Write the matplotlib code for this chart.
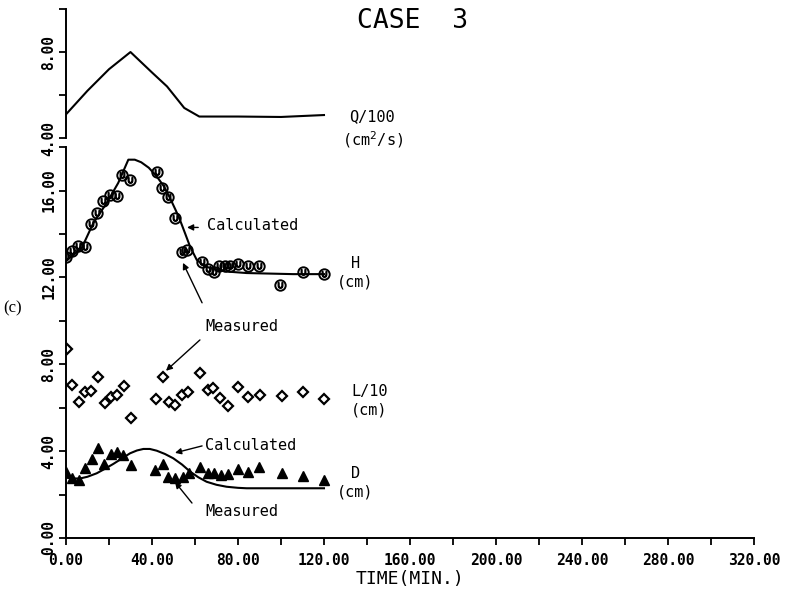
import matplotlib.pyplot as plt
from matplotlib.ticker import MultipleLocator, FixedLocator

# Q/100 (cm^2/s), upper panel
t_q = [0, 10, 20, 30, 40, 47, 55, 62, 80, 100, 120]
q = [5.1, 6.2, 7.2, 8.0, 7.05, 6.4, 5.4, 5.0, 5.0, 4.98, 5.07]

# H measured (cm)
t_h = [0, 2.6, 5.7, 8.8, 11.5, 14.6, 17.4, 20.5, 23.6, 25.9, 29.8, 42.2, 44.5, 47.6,
       50.7, 53.8, 56.1, 63.1, 65.9, 69, 71.3, 74, 76.3, 80.1, 84.8, 89.9, 99.5, 110.4, 120]
h = [12.94, 13.2, 13.46, 13.4, 14.47, 14.96, 15.5, 15.8, 15.73, 16.73, 16.5, 16.83, 16.12, 15.7,
     14.73, 13.19, 13.24, 12.73, 12.38, 12.27, 12.53, 12.53, 12.53, 12.63, 12.53, 12.53, 11.66, 12.24, 12.15]

# H calculated
t_hc = [0, 7.3, 12.7, 18.9, 24.3, 29, 32, 35, 38.5, 42.2, 45.5, 48.4, 51, 53, 55.5, 57.7,
        60.8, 64, 67, 74.7, 84, 105.6, 120]
h_c = [12.75, 13.35, 14.5, 15.42, 16.35, 17.42, 17.42, 17.3, 17.05, 16.65, 16.2, 15.65, 15.1, 14.65,
       14.0, 13.42, 12.81, 12.55, 12.43, 12.27, 12.2, 12.15, 12.15]

# L/10 measured (cm)
t_l = [0.3, 2.6, 6, 8.8, 11.5, 14.7, 18.1, 20.9, 23.9, 27, 30.2, 41.9, 45, 47.9, 50.7, 53.8,
       56.9, 62.3, 65.9, 68.5, 71.6, 75.2, 80.1, 84.8, 90.2, 100.3, 110.1, 120.1]
l = [8.7, 7.05, 6.28, 6.74, 6.79, 7.43, 6.21, 6.48, 6.59, 7.02, 5.52, 6.39, 7.43, 6.28, 6.13, 6.59,
     6.74, 7.62, 6.82, 6.9, 6.44, 6.08, 6.93, 6.51, 6.59, 6.54, 6.7, 6.39]

# D measured (cm)
t_d = [0, 2.6, 6, 8.8, 11.9, 14.7, 17.7, 20.9, 23.9, 26.7, 30.2, 41.4, 45, 47.6, 50.7, 54.3,
       57.3, 62.3, 65.9, 69, 72.1, 75.2, 79.9, 84.8, 89.9, 100.3, 110.1, 120.1]
d = [3.06, 2.78, 2.67, 3.21, 3.63, 4.13, 3.41, 3.87, 3.98, 3.82, 3.36, 3.13, 3.4, 2.83, 2.75, 2.83,
     3.01, 3.29, 2.98, 3.01, 2.9, 2.94, 3.17, 3.06, 3.29, 2.98, 2.86, 2.67]

# D calculated
t_dc = [0, 3, 6.5, 10, 14.3, 18, 22, 26, 29.8, 33, 36, 39, 42.2, 46, 49.9, 54, 57.7,
        61.5, 65.4, 70, 74.7, 80, 84, 120]
d_c = [2.78, 2.74, 2.74, 2.82, 2.98, 3.18, 3.41, 3.66, 3.9, 4.03, 4.1, 4.1, 4.02, 3.87, 3.67, 3.38, 3.06,
       2.8, 2.59, 2.45, 2.36, 2.31, 2.29, 2.29]

mono = 'DejaVu Sans Mono'

fig = plt.figure(figsize=(7.94, 5.95), dpi=100)
ax = fig.add_axes([0.0831, 0.0958, 0.8665, 0.657])
ax_q = fig.add_axes([0.0831, 0.768, 0.8665, 0.2168])

for a in (ax, ax_q):
    a.set_xlim(0, 320)
    a.spines['top'].set_visible(False)
    a.spines['right'].set_visible(False)
    a.spines['left'].set_linewidth(1.4)
    a.spines['bottom'].set_linewidth(1.4)

# lower panel
ax.set_ylim(0, 18)
ax.xaxis.set_major_locator(MultipleLocator(40))
ax.xaxis.set_minor_locator(MultipleLocator(20))
ax.yaxis.set_major_locator(MultipleLocator(4))
ax.yaxis.set_minor_locator(MultipleLocator(2))
ax.xaxis.set_major_formatter(lambda v, p: f'{v:.2f}')
ax.yaxis.set_major_formatter(lambda v, p: f'{v:.2f}')
ax.tick_params(axis='x', which='both', direction='out', length=5, width=1.3, pad=6)
ax.tick_params(axis='y', which='both', direction='out', length=5, width=1.3, pad=2)
ax.tick_params(axis='y', labelrotation=90)
for lab in ax.get_xticklabels():
    lab.set_fontfamily(mono)
    lab.set_fontsize(10.5)
    lab.set_fontweight('bold')
for lab in ax.get_yticklabels():
    lab.set_fontfamily(mono)
    lab.set_fontsize(10.5)
    lab.set_fontweight('bold')
    lab.set_va('center')
ax.set_xlabel('TIME(MIN.)', fontfamily=mono, fontsize=13, labelpad=1)

ax.plot(t_hc, h_c, color='black', lw=1.5)
ax.plot(t_h, h, ls='none', marker='o', ms=7.5, mfc='none', mec='black', mew=1.4)
ax.plot(t_h, h, ls='none', marker='$\\cup$', ms=4, color='black')
ax.plot(t_l, l, ls='none', marker='D', ms=5, mfc='white', mec='black', mew=1.6)
ax.plot(t_dc, d_c, color='black', lw=1.5)
ax.plot(t_d, d, ls='none', marker='^', ms=6.5, color='black')

# upper panel
ax_q.set_ylim(4, 10)
ax_q.spines['bottom'].set_visible(False)
ax_q.set_xticks([])
ax_q.yaxis.set_major_locator(FixedLocator([4, 8]))
ax_q.yaxis.set_minor_locator(MultipleLocator(2))
ax_q.yaxis.set_major_formatter(lambda v, p: f'{v:.2f}')
ax_q.tick_params(axis='y', which='both', direction='out', length=5, width=1.3, pad=2)
ax_q.tick_params(axis='y', labelrotation=90)
for lab in ax_q.get_yticklabels():
    lab.set_fontfamily(mono)
    lab.set_fontsize(10.5)
    lab.set_fontweight('bold')
    lab.set_va('center')
ax_q.plot(t_q, q, color='black', lw=1.5)
ax_q.patch.set_alpha(0)

ax_q.text(135.3, 9.45, 'CASE  3', fontfamily=mono, fontsize=19, va='center', ha='left')

# side labels
lbl = dict(fontfamily=mono, fontsize=11, ha='center', va='center', linespacing=1.3, clip_on=False)
ax.text(142.5, 18.8, 'Q/100\n(cm$^2$/s)', **lbl)
ax.text(134.5, 12.2, 'H\n(cm)', **lbl)
ax.text(141, 6.3, 'L/10\n(cm)', **lbl)
ax.text(134.5, 2.53, 'D\n(cm)', **lbl)

# annotations
ann = dict(fontfamily=mono, fontsize=11, ha='left', va='center')
arr = dict(arrowstyle='-|>', color='black', lw=1.0, mutation_scale=9, shrinkA=0, shrinkB=0)
ax.text(65.6, 14.38, 'Calculated', **ann)
ax.annotate('', xy=(56.3, 14.3), xytext=(61.5, 14.3), arrowprops=arr)
ax.text(64.7, 9.72, 'Measured', **ann)
ax.annotate('', xy=(54.4, 12.67), xytext=(63.3, 10.83), arrowprops=arr)
ax.annotate('', xy=(46.5, 7.7), xytext=(62.3, 9.12), arrowprops=arr)
ax.text(64.7, 4.24, 'Calculated', **ann)
ax.annotate('', xy=(50.7, 3.92), xytext=(63.3, 4.24), arrowprops=arr)
ax.text(64.7, 1.24, 'Measured', **ann)
ax.annotate('', xy=(50.7, 2.58), xytext=(58.6, 1.61), arrowprops=arr)

fig.text(13 / 794, 1 - 308 / 595, '(c)', fontfamily='Liberation Serif', fontsize=12,
         ha='center', va='center')

fig.savefig('out.png', dpi=100)
